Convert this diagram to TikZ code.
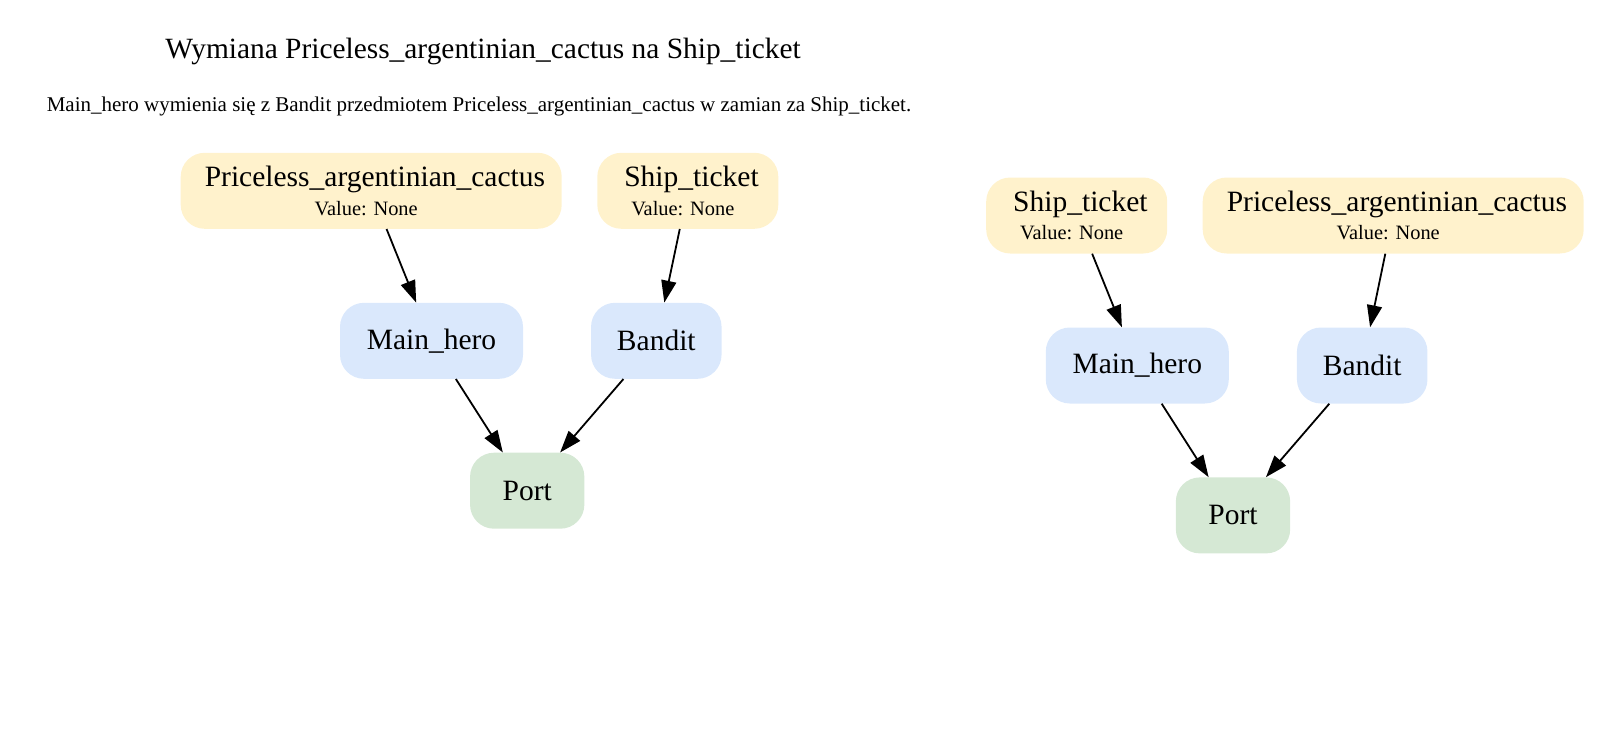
\documentclass[tikz,border=0pt]{standalone}
\usepackage{fontspec}
\setmainfont{Liberation Serif}
\usetikzlibrary{arrows.meta}
\definecolor{itemfill}{HTML}{FFF2CC}
\definecolor{charfill}{HTML}{DAE8FC}
\definecolor{placefill}{HTML}{D5E8D4}
\tikzset{
  box/.style={rounded corners=24pt, inner sep=0pt, minimum height=76pt, align=center,
    font=\fontsize{20.4}{28.4}\selectfont},
  itembox/.style={box, fill=itemfill},
  charbox/.style={box, fill=charfill, font=\fontsize{29.5}{30}\selectfont},
  placebox/.style={box, fill=placefill, font=\fontsize{29.5}{30}\selectfont},
  conn/.style={-{Triangle[length=22pt,width=15pt]}, line width=1.8pt, black},
}
\newcommand{\itemname}[1]{{\fontsize{29.5}{28.4}\selectfont\hspace*{7.4pt}#1}}
\newcommand{\itemvalue}[1]{#1\hspace*{10pt}}
\begin{document}
\begin{tikzpicture}[x=1pt,y=-1pt]
\useasboundingbox (0,0) rectangle (1611,731);
\node[anchor=base, font=\fontsize{29.4}{30}\selectfont] (title) at (483,58.6) {Wymiana Priceless\_argentinian\_cactus na Ship\_ticket};
\node[anchor=base, font=\fontsize{21}{22}\selectfont] (sub) at (479,111) {Main\_hero wymienia się z Bandit przedmiotem Priceless\_argentinian\_cactus w zamian za Ship\_ticket.};
% left
\node[itembox, minimum width=381pt] (cactusL) at (371.2,190.8) {\itemname{Priceless\_argentinian\_cactus}\\\itemvalue{Value: None}};
\node[itembox, minimum width=181pt] (shipL) at (687.8,190.8) {\itemname{Ship\_ticket}\\\itemvalue{Value: None}};
\node[charbox, minimum width=183pt] (heroL) at (431.5,340.8) {Main\_hero};
\node[charbox, minimum width=130.5pt] (banditL) at (656.3,340.8) {Bandit};
\node[placebox, minimum width=114.3pt] (portL) at (527.2,490.7) {Port};
\draw[conn] (cactusL) -- (heroL);
\draw[conn] (shipL) -- (banditL);
\draw[conn] (heroL) -- (portL);
\draw[conn] (banditL) -- (portL);
% right
\node[itembox, minimum width=181pt] (shipR) at (1076.7,215.5) {\itemname{Ship\_ticket}\\\itemvalue{Value: None}};
\node[itembox, minimum width=381pt] (cactusR) at (1393.2,215.5) {\itemname{Priceless\_argentinian\_cactus}\\\itemvalue{Value: None}};
\node[charbox, minimum width=183pt] (heroR) at (1137.3,365.5) {Main\_hero};
\node[charbox, minimum width=130.5pt] (banditR) at (1362.2,365.5) {Bandit};
\node[placebox, minimum width=114.3pt] (portR) at (1233,515.4) {Port};
\draw[conn] (shipR) -- (heroR);
\draw[conn] (cactusR) -- (banditR);
\draw[conn] (heroR) -- (portR);
\draw[conn] (banditR) -- (portR);
\end{tikzpicture}
\end{document}
